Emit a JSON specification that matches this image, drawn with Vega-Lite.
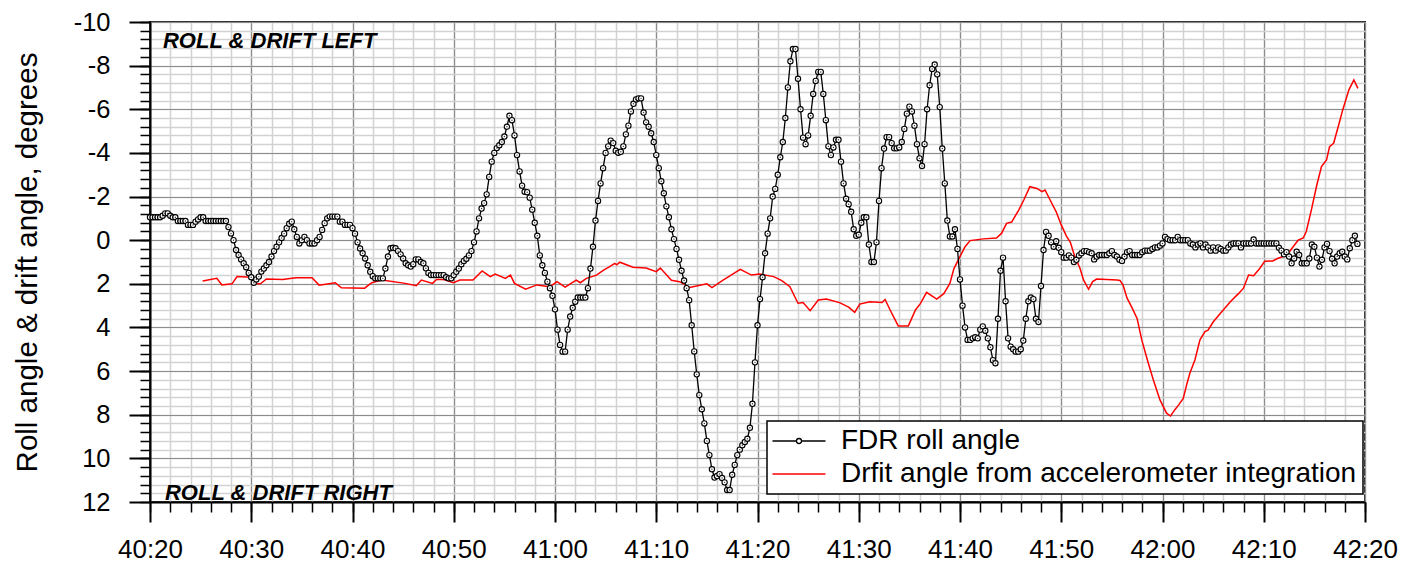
{
  "$schema": "https://vega.github.io/schema/vega-lite/v6.json",
  "width": 1215,
  "height": 480,
  "autosize": {"type": "none"},
  "padding": {"left": 150, "top": 22, "right": 40, "bottom": 62},
  "background": "white",
  "config": {
    "font": "Liberation Sans",
    "view": {"stroke": "black", "strokeWidth": 2},
    "axis": {"labelFont": "Liberation Sans", "titleFont": "Liberation Sans", "labelColor": "black", "titleColor": "black"}
  },
  "datasets": {
    "roll": [
      {"t":20,"v":-1.05},{"t":20.25,"v":-1.05},{"t":20.5,"v":-1.05},{"t":20.75,"v":-1.05},{"t":21,"v":-1.05},{"t":21.25,"v":-1.12},{"t":21.5,"v":-1.23},{"t":21.75,"v":-1.23},
      {"t":22,"v":-1.12},{"t":22.25,"v":-1.05},{"t":22.5,"v":-1.05},{"t":22.75,"v":-0.88},{"t":23,"v":-0.88},{"t":23.25,"v":-0.88},{"t":23.5,"v":-0.88},{"t":23.75,"v":-0.7},
      {"t":24,"v":-0.7},{"t":24.25,"v":-0.7},{"t":24.5,"v":-0.85},{"t":24.75,"v":-0.95},{"t":25,"v":-1.05},{"t":25.25,"v":-1.05},{"t":25.5,"v":-0.88},{"t":25.75,"v":-0.88},
      {"t":26,"v":-0.88},{"t":26.25,"v":-0.88},{"t":26.5,"v":-0.88},{"t":26.75,"v":-0.88},{"t":27,"v":-0.88},{"t":27.25,"v":-0.88},{"t":27.5,"v":-0.88},{"t":27.75,"v":-0.6},
      {"t":28,"v":-0.31},{"t":28.25,"v":0},{"t":28.5,"v":0.45},{"t":28.75,"v":0.68},{"t":29,"v":0.88},{"t":29.25,"v":1.06},{"t":29.5,"v":1.24},{"t":29.75,"v":1.5},
      {"t":30,"v":1.7},{"t":30.25,"v":1.95},{"t":30.5,"v":1.8},{"t":30.75,"v":1.67},{"t":31,"v":1.44},{"t":31.25,"v":1.3},{"t":31.5,"v":1.15},{"t":31.75,"v":1},
      {"t":32,"v":0.75},{"t":32.25,"v":0.5},{"t":32.5,"v":0.3},{"t":32.75,"v":0.1},{"t":33,"v":-0.1},{"t":33.25,"v":-0.3},{"t":33.5,"v":-0.55},{"t":33.75,"v":-0.75},
      {"t":34,"v":-0.85},{"t":34.25,"v":-0.5},{"t":34.5,"v":-0.15},{"t":34.75,"v":0.15},{"t":35,"v":0},{"t":35.25,"v":-0.15},{"t":35.5,"v":0},{"t":35.75,"v":0.15},
      {"t":36,"v":0.15},{"t":36.25,"v":0.15},{"t":36.5,"v":0},{"t":36.75,"v":-0.15},{"t":37,"v":-0.47},{"t":37.25,"v":-0.78},{"t":37.5,"v":-1},{"t":37.75,"v":-1.08},
      {"t":38,"v":-1.08},{"t":38.25,"v":-1.08},{"t":38.5,"v":-1.08},{"t":38.75,"v":-0.85},{"t":39,"v":-0.85},{"t":39.25,"v":-0.7},{"t":39.5,"v":-0.7},{"t":39.75,"v":-0.7},
      {"t":40,"v":-0.55},{"t":40.25,"v":-0.3},{"t":40.5,"v":0.1},{"t":40.75,"v":0.38},{"t":41,"v":0.6},{"t":41.25,"v":0.84},{"t":41.5,"v":1.15},{"t":41.75,"v":1.45},
      {"t":42,"v":1.65},{"t":42.25,"v":1.75},{"t":42.5,"v":1.75},{"t":42.75,"v":1.75},{"t":43,"v":1.75},{"t":43.25,"v":1.3},{"t":43.5,"v":0.75},{"t":43.75,"v":0.37},
      {"t":44,"v":0.35},{"t":44.25,"v":0.37},{"t":44.5,"v":0.5},{"t":44.75,"v":0.65},{"t":45,"v":0.84},{"t":45.25,"v":1.06},{"t":45.5,"v":1.15},{"t":45.75,"v":1.21},
      {"t":46,"v":1.1},{"t":46.25,"v":0.88},{"t":46.5,"v":0.88},{"t":46.75,"v":1},{"t":47,"v":1.06},{"t":47.25,"v":1.29},{"t":47.5,"v":1.5},{"t":47.75,"v":1.6},
      {"t":48,"v":1.6},{"t":48.25,"v":1.6},{"t":48.5,"v":1.6},{"t":48.75,"v":1.6},{"t":49,"v":1.6},{"t":49.25,"v":1.7},{"t":49.5,"v":1.75},{"t":49.75,"v":1.75},
      {"t":50,"v":1.6},{"t":50.25,"v":1.45},{"t":50.5,"v":1.3},{"t":50.75,"v":1.1},{"t":51,"v":0.95},{"t":51.25,"v":0.85},{"t":51.5,"v":0.7},{"t":51.75,"v":0.5},
      {"t":52,"v":0.1},{"t":52.25,"v":-0.4},{"t":52.5,"v":-1},{"t":52.75,"v":-1.45},{"t":53,"v":-1.7},{"t":53.25,"v":-2.1},{"t":53.5,"v":-2.9},{"t":53.75,"v":-3.6},
      {"t":54,"v":-4},{"t":54.25,"v":-4.22},{"t":54.5,"v":-4.35},{"t":54.75,"v":-4.5},{"t":55,"v":-4.75},{"t":55.25,"v":-5.2},{"t":55.5,"v":-5.7},{"t":55.75,"v":-5.5},
      {"t":56,"v":-4.8},{"t":56.25,"v":-3.9},{"t":56.5,"v":-3.15},{"t":56.75,"v":-2.5},{"t":57,"v":-2.22},{"t":57.25,"v":-2.2},{"t":57.5,"v":-1.95},{"t":57.75,"v":-1.4},
      {"t":58,"v":-0.8},{"t":58.25,"v":-0.2},{"t":58.5,"v":0.7},{"t":58.75,"v":1.15},{"t":59,"v":1.5},{"t":59.25,"v":1.9},{"t":59.5,"v":2.2},{"t":59.75,"v":2.55},
      {"t":60,"v":3.17},{"t":60.25,"v":4.1},{"t":60.5,"v":4.8},{"t":60.75,"v":5.11},{"t":61,"v":5.11},{"t":61.25,"v":4.1},{"t":61.5,"v":3.5},{"t":61.75,"v":3.1},
      {"t":62,"v":2.82},{"t":62.25,"v":2.63},{"t":62.5,"v":2.63},{"t":62.75,"v":2.63},{"t":63,"v":2.63},{"t":63.25,"v":2.2},{"t":63.5,"v":1.3},{"t":63.75,"v":0.3},
      {"t":64,"v":-0.9},{"t":64.25,"v":-1.8},{"t":64.5,"v":-2.6},{"t":64.75,"v":-3.3},{"t":65,"v":-4},{"t":65.25,"v":-4.3},{"t":65.5,"v":-4.56},{"t":65.75,"v":-4.45},
      {"t":66,"v":-4.1},{"t":66.25,"v":-4.01},{"t":66.5,"v":-4.05},{"t":66.75,"v":-4.3},{"t":67,"v":-4.85},{"t":67.25,"v":-5.25},{"t":67.5,"v":-5.9},{"t":67.75,"v":-6.25},
      {"t":68,"v":-6.45},{"t":68.25,"v":-6.5},{"t":68.5,"v":-6.5},{"t":68.75,"v":-5.85},{"t":69,"v":-5.4},{"t":69.25,"v":-5.2},{"t":69.5,"v":-4.9},{"t":69.75,"v":-4.5},
      {"t":70,"v":-3.9},{"t":70.25,"v":-3.3},{"t":70.5,"v":-2.7},{"t":70.75,"v":-2.15},{"t":71,"v":-1.55},{"t":71.25,"v":-1.05},{"t":71.5,"v":-0.5},{"t":71.75,"v":-0.05},
      {"t":72,"v":0.4},{"t":72.25,"v":0.9},{"t":72.5,"v":1.4},{"t":72.75,"v":1.85},{"t":73,"v":2.2},{"t":73.25,"v":2.75},{"t":73.5,"v":3.9},{"t":73.75,"v":5.1},
      {"t":74,"v":6.15},{"t":74.25,"v":7.1},{"t":74.5,"v":7.75},{"t":74.75,"v":8.4},{"t":75,"v":9.2},{"t":75.25,"v":9.85},{"t":75.5,"v":10.5},{"t":75.75,"v":10.88},
      {"t":76,"v":10.81},{"t":76.25,"v":10.72},{"t":76.5,"v":10.9},{"t":76.75,"v":11.1},{"t":77,"v":11.45},{"t":77.25,"v":11.45},{"t":77.5,"v":10.75},{"t":77.75,"v":10.3},
      {"t":78,"v":9.85},{"t":78.25,"v":9.6},{"t":78.5,"v":9.4},{"t":78.75,"v":9.25},{"t":79,"v":9.1},{"t":79.25,"v":8.6},{"t":79.5,"v":7.5},{"t":79.75,"v":5.6},
      {"t":80,"v":3.9},{"t":80.25,"v":2.7},{"t":80.5,"v":1.7},{"t":80.75,"v":0.6},{"t":81,"v":-0.3},{"t":81.25,"v":-1},{"t":81.5,"v":-2},{"t":81.75,"v":-2.35},
      {"t":82,"v":-3},{"t":82.25,"v":-3.8},{"t":82.5,"v":-4.5},{"t":82.75,"v":-5.6},{"t":83,"v":-7},{"t":83.25,"v":-8.2},{"t":83.5,"v":-8.76},{"t":83.75,"v":-8.76},
      {"t":84,"v":-7.4},{"t":84.25,"v":-6},{"t":84.5,"v":-4.7},{"t":84.75,"v":-4.4},{"t":85,"v":-4.8},{"t":85.25,"v":-5.7},{"t":85.5,"v":-6.7},{"t":85.75,"v":-7.3},
      {"t":86,"v":-7.71},{"t":86.25,"v":-7.71},{"t":86.5,"v":-6.7},{"t":86.75,"v":-5.5},{"t":87,"v":-4.3},{"t":87.25,"v":-3.9},{"t":87.5,"v":-4.25},{"t":87.75,"v":-4.6},
      {"t":88,"v":-4.6},{"t":88.25,"v":-3.6},{"t":88.5,"v":-2.6},{"t":88.75,"v":-1.9},{"t":89,"v":-1.65},{"t":89.25,"v":-1.3},{"t":89.5,"v":-0.5},{"t":89.75,"v":-0.2},
      {"t":90,"v":-0.25},{"t":90.25,"v":-0.8},{"t":90.5,"v":-1.05},{"t":90.75,"v":-1.05},{"t":91,"v":0.2},{"t":91.25,"v":1},{"t":91.5,"v":1},{"t":91.75,"v":0.1},
      {"t":92,"v":-1.8},{"t":92.25,"v":-3.3},{"t":92.5,"v":-4.2},{"t":92.75,"v":-4.72},{"t":93,"v":-4.72},{"t":93.25,"v":-4.45},{"t":93.5,"v":-4.21},{"t":93.75,"v":-4.21},
      {"t":94,"v":-4.25},{"t":94.25,"v":-4.5},{"t":94.5,"v":-5.1},{"t":94.75,"v":-5.8},{"t":95,"v":-6.12},{"t":95.25,"v":-5.9},{"t":95.5,"v":-5.25},{"t":95.75,"v":-4.4},
      {"t":96,"v":-3.75},{"t":96.25,"v":-3.4},{"t":96.5,"v":-4.4},{"t":96.75,"v":-6},{"t":97,"v":-7.1},{"t":97.25,"v":-7.85},{"t":97.5,"v":-8.05},{"t":97.75,"v":-7.6},
      {"t":98,"v":-6.1},{"t":98.25,"v":-4.2},{"t":98.5,"v":-2.6},{"t":98.75,"v":-0.9},{"t":99,"v":-0.17},{"t":99.25,"v":-0.17},{"t":99.5,"v":-0.5},{"t":99.75,"v":0.4},
      {"t":100,"v":1.8},{"t":100.25,"v":3},{"t":100.5,"v":4},{"t":100.75,"v":4.57},{"t":101,"v":4.57},{"t":101.25,"v":4.5},{"t":101.5,"v":4.45},{"t":101.75,"v":4.5},
      {"t":102,"v":4.1},{"t":102.25,"v":3.95},{"t":102.5,"v":4.15},{"t":102.75,"v":4.5},{"t":103,"v":4.91},{"t":103.25,"v":5.5},{"t":103.5,"v":5.64},{"t":103.75,"v":3.6},
      {"t":104,"v":1.4},{"t":104.25,"v":0.8},{"t":104.5,"v":2.8},{"t":104.75,"v":4.5},{"t":105,"v":4.88},{"t":105.25,"v":5},{"t":105.5,"v":5.11},{"t":105.75,"v":5.11},
      {"t":106,"v":5},{"t":106.25,"v":4.6},{"t":106.5,"v":3.6},{"t":106.75,"v":2.8},{"t":107,"v":2.63},{"t":107.25,"v":2.7},{"t":107.5,"v":3.6},{"t":107.75,"v":3.75},
      {"t":108,"v":2.1},{"t":108.25,"v":0.45},{"t":108.5,"v":-0.38},{"t":108.75,"v":-0.2},{"t":109,"v":0.1},{"t":109.25,"v":0.3},{"t":109.5,"v":0.05},{"t":109.75,"v":0.35},
      {"t":110,"v":0.55},{"t":110.25,"v":0.8},{"t":110.5,"v":0.8},{"t":110.75,"v":0.7},{"t":111,"v":0.8},{"t":111.25,"v":1},{"t":111.5,"v":0.9},{"t":111.75,"v":0.7},
      {"t":112,"v":0.6},{"t":112.25,"v":0.5},{"t":112.5,"v":0.5},{"t":112.75,"v":0.55},{"t":113,"v":0.6},{"t":113.25,"v":0.88},{"t":113.5,"v":0.75},{"t":113.75,"v":0.68},
      {"t":114,"v":0.68},{"t":114.25,"v":0.68},{"t":114.5,"v":0.68},{"t":114.75,"v":0.6},{"t":115,"v":0.5},{"t":115.25,"v":0.68},{"t":115.5,"v":0.75},{"t":115.75,"v":0.9},
      {"t":116,"v":0.95},{"t":116.25,"v":0.75},{"t":116.5,"v":0.55},{"t":116.75,"v":0.5},{"t":117,"v":0.68},{"t":117.25,"v":0.68},{"t":117.5,"v":0.68},{"t":117.75,"v":0.68},
      {"t":118,"v":0.55},{"t":118.25,"v":0.48},{"t":118.5,"v":0.48},{"t":118.75,"v":0.48},{"t":119,"v":0.4},{"t":119.25,"v":0.33},{"t":119.5,"v":0.33},{"t":119.75,"v":0.25},
      {"t":120,"v":0.15},{"t":120.25,"v":-0.15},{"t":120.5,"v":-0.05},{"t":120.75,"v":0},{"t":121,"v":0},{"t":121.25,"v":0},{"t":121.5,"v":-0.15},{"t":121.75,"v":0},
      {"t":122,"v":0},{"t":122.25,"v":0},{"t":122.5,"v":0},{"t":122.75,"v":0.15},{"t":123,"v":0.2},{"t":123.25,"v":0.33},{"t":123.5,"v":0.2},{"t":123.75,"v":0.15},
      {"t":124,"v":0.33},{"t":124.25,"v":0.2},{"t":124.5,"v":0.33},{"t":124.75,"v":0.48},{"t":125,"v":0.33},{"t":125.25,"v":0.48},{"t":125.5,"v":0.33},{"t":125.75,"v":0.4},
      {"t":126,"v":0.48},{"t":126.25,"v":0.48},{"t":126.5,"v":0.33},{"t":126.75,"v":0.2},{"t":127,"v":0.15},{"t":127.25,"v":0.15},{"t":127.5,"v":0.15},{"t":127.75,"v":0.33},
      {"t":128,"v":0.15},{"t":128.25,"v":0.15},{"t":128.5,"v":0.15},{"t":128.75,"v":0.15},{"t":129,"v":-0.03},{"t":129.25,"v":0.15},{"t":129.5,"v":0.15},{"t":129.75,"v":0.15},
      {"t":130,"v":0.15},{"t":130.25,"v":0.15},{"t":130.5,"v":0.15},{"t":130.75,"v":0.15},{"t":131,"v":0.15},{"t":131.25,"v":0.15},{"t":131.5,"v":0.35},{"t":131.75,"v":0.48},
      {"t":132,"v":0.65},{"t":132.25,"v":0.55},{"t":132.5,"v":0.75},{"t":132.75,"v":1.06},{"t":133,"v":0.84},{"t":133.25,"v":0.53},{"t":133.5,"v":0.68},{"t":133.75,"v":1.06},
      {"t":134,"v":1.06},{"t":134.25,"v":1.06},{"t":134.5,"v":0.84},{"t":134.75,"v":0.2},{"t":135,"v":0.3},{"t":135.25,"v":0.8},{"t":135.5,"v":1.21},{"t":135.75,"v":0.9},
      {"t":136,"v":0.33},{"t":136.25,"v":0.17},{"t":136.5,"v":0.5},{"t":136.75,"v":0.85},{"t":137,"v":1.06},{"t":137.25,"v":0.75},{"t":137.5,"v":0.6},{"t":137.75,"v":0.53},
      {"t":138,"v":0.75},{"t":138.25,"v":0.88},{"t":138.5,"v":0.37},{"t":138.75,"v":0},{"t":139,"v":-0.2},{"t":139.25,"v":0.17}
    ],
    "drift": [
      {"t":25.2,"v":1.87},{"t":26.6,"v":1.75},{"t":27.1,"v":2.05},{"t":28.1,"v":2},{"t":28.6,"v":1.67},{"t":30,"v":1.7},{"t":30.4,"v":2},{"t":30.9,"v":2},
      {"t":31.5,"v":1.78},{"t":33.1,"v":1.8},{"t":34.4,"v":1.72},{"t":36,"v":1.72},{"t":36.7,"v":2.06},{"t":38.3,"v":1.95},{"t":38.9,"v":2.18},{"t":41.2,"v":2.2},
      {"t":41.9,"v":1.95},{"t":42.9,"v":1.83},{"t":45.2,"v":1.98},{"t":46.3,"v":2.09},{"t":46.8,"v":1.83},{"t":47.9,"v":1.98},{"t":48.3,"v":1.8},{"t":49,"v":1.8},
      {"t":49.96,"v":1.95},{"t":50.6,"v":1.83},{"t":51.9,"v":1.83},{"t":52.8,"v":1.41},{"t":53.6,"v":1.67},{"t":54.1,"v":1.55},{"t":55.1,"v":1.75},{"t":55.6,"v":1.6},
      {"t":56,"v":1.98},{"t":57.1,"v":2.25},{"t":58.2,"v":2.05},{"t":59.5,"v":2.13},{"t":60.2,"v":1.9},{"t":61,"v":2.15},{"t":62.1,"v":1.83},{"t":62.5,"v":1.95},
      {"t":63.1,"v":1.75},{"t":64.1,"v":1.6},{"t":64.8,"v":1.37},{"t":65.4,"v":1.21},{"t":65.9,"v":1.06},{"t":66.1,"v":1.13},{"t":66.4,"v":1.01},{"t":67.7,"v":1.24},
      {"t":69,"v":1.28},{"t":70,"v":1.44},{"t":70.4,"v":1.28},{"t":71.5,"v":1.84},{"t":72.3,"v":1.9},{"t":73.3,"v":2.17},{"t":75,"v":2},{"t":75.5,"v":2.17},
      {"t":76.6,"v":1.83},{"t":78.3,"v":1.34},{"t":79.4,"v":1.6},{"t":80.2,"v":1.55},{"t":81.6,"v":1.67},{"t":82.4,"v":1.85},{"t":83.2,"v":2.13},{"t":84,"v":2.89},
      {"t":84.5,"v":2.86},{"t":85.2,"v":3.23},{"t":86,"v":2.74},{"t":86.8,"v":2.7},{"t":88.1,"v":2.86},{"t":89,"v":3.07},{"t":89.6,"v":3.31},{"t":90.1,"v":2.93},
      {"t":91.1,"v":2.82},{"t":92.3,"v":2.86},{"t":92.6,"v":2.72},{"t":93.1,"v":3.2},{"t":93.9,"v":3.93},{"t":94.9,"v":3.93},{"t":95.6,"v":3.2},{"t":96.1,"v":2.9},
      {"t":96.7,"v":2.39},{"t":97.7,"v":2.7},{"t":98.4,"v":2.45},{"t":99,"v":1.98},{"t":99.4,"v":1.3},{"t":100,"v":0.75},{"t":100.5,"v":0.3},{"t":101,"v":0.02},
      {"t":102.3,"v":-0.06},{"t":103.6,"v":-0.1},{"t":104.1,"v":-0.31},{"t":104.6,"v":-0.77},{"t":105.1,"v":-0.83},{"t":105.8,"v":-1.38},{"t":106.3,"v":-1.84},{"t":106.9,"v":-2.45},
      {"t":107.6,"v":-2.37},{"t":108.1,"v":-2.22},{"t":108.4,"v":-2.3},{"t":108.9,"v":-1.84},{"t":109.5,"v":-1.3},{"t":110,"v":-0.7},{"t":110.5,"v":-0.2},{"t":110.9,"v":0.1},
      {"t":111.3,"v":0.7},{"t":111.85,"v":1.29},{"t":112.2,"v":1.82},{"t":112.7,"v":2.25},{"t":113.1,"v":1.9},{"t":113.5,"v":1.78},{"t":114.5,"v":1.8},{"t":115.5,"v":1.83},
      {"t":115.8,"v":1.85},{"t":116.1,"v":2.05},{"t":116.5,"v":2.66},{"t":117,"v":3.1},{"t":117.5,"v":3.6},{"t":117.95,"v":4.57},{"t":118.6,"v":5.64},{"t":119.1,"v":6.41},
      {"t":119.75,"v":7.32},{"t":120.4,"v":7.93},{"t":120.8,"v":8.06},{"t":121.2,"v":7.78},{"t":121.6,"v":7.55},{"t":122.05,"v":7.25},{"t":122.4,"v":6.6},{"t":122.7,"v":6.1},
      {"t":123.2,"v":5.49},{"t":123.7,"v":4.57},{"t":124.2,"v":4.19},{"t":124.5,"v":4.12},{"t":125,"v":3.75},{"t":125.7,"v":3.36},{"t":126.7,"v":2.82},{"t":127.5,"v":2.45},
      {"t":128,"v":2.2},{"t":128.5,"v":1.6},{"t":129,"v":1.63},{"t":129.6,"v":1.3},{"t":130.1,"v":0.96},{"t":130.9,"v":0.95},{"t":131.3,"v":0.85},{"t":132.3,"v":0.68},
      {"t":132.9,"v":0.3},{"t":133.4,"v":0},{"t":133.9,"v":-0.1},{"t":134.2,"v":-0.4},{"t":134.7,"v":-1.38},{"t":135.2,"v":-2.45},{"t":135.7,"v":-3.37},{"t":136.2,"v":-3.68},
      {"t":136.5,"v":-4.29},{"t":136.9,"v":-4.44},{"t":137.4,"v":-5.28},{"t":137.8,"v":-5.97},{"t":138.4,"v":-6.88},{"t":138.9,"v":-7.34},{"t":139.3,"v":-6.96}
    ]
  },
  "layer": [
    {
      "data": {"name": "drift"},
      "mark": {"type": "line", "strokeWidth": 1.5, "interpolate": "linear"},
      "encoding": {
        "x": {
          "field": "t", "type": "quantitative",
          "scale": {"domain": [20, 140], "nice": false, "zero": false},
          "axis": {
            "orient": "bottom", "title": null, "labels": false, "domain": false,
            "values": [20,22,24,26,28,30,32,34,36,38,40,42,44,46,48,50,52,54,56,58,60,62,64,66,68,70,72,74,76,78,80,82,84,86,88,90,92,94,96,98,100,102,104,106,108,110,112,114,116,118,120,122,124,126,128,130,132,134,136,138,140],
            "grid": true, "gridColor": "#d2d2d2", "gridWidth": 1.5,
            "ticks": true, "tickSize": 10, "tickColor": "black", "tickWidth": 1.5
          }
        },
        "y": {
          "field": "v", "type": "quantitative",
          "scale": {"domain": [-10, 12], "reverse": true, "nice": false, "zero": false},
          "axis": {
            "orient": "left", "title": null, "labels": false, "domain": false,
            "values": [-10,-9.6,-9.2,-8.8,-8.4,-8,-7.6,-7.2,-6.8,-6.4,-6,-5.6,-5.2,-4.8,-4.4,-4,-3.6,-3.2,-2.8,-2.4,-2,-1.6,-1.2,-0.8,-0.4,0,0.4,0.8,1.2,1.6,2,2.4,2.8,3.2,3.6,4,4.4,4.8,5.2,5.6,6,6.4,6.8,7.2,7.6,8,8.4,8.8,9.2,9.6,10,10.4,10.8,11.2,11.6,12],
            "grid": true, "gridColor": "#d2d2d2", "gridWidth": 1.5,
            "ticks": true, "tickSize": 10, "tickColor": "black", "tickWidth": 1.5
          }
        },
        "color": {
          "datum": "Drfit angle from accelerometer integration",
          "scale": {"domain": ["FDR roll angle", "Drfit angle from accelerometer integration"], "range": ["black", "#ff0000"]},
          "legend": {
            "title": null, "orient": "none", "legendX": 617, "legendY": 399, "direction": "vertical",
            "fillColor": "white", "strokeColor": "black", "padding": 6,
            "labelFont": "Liberation Sans", "labelFontSize": 28, "labelColor": "black", "labelLimit": 0,
            "symbolSize": 100, "symbolOffset": 12, "labelOffset": 28, "rowPadding": 5, "symbolStrokeWidth": 1.3,
            "encode": {
              "legend": {"update": {"strokeWidth": {"value": 1.5}}},
              "symbols": {
                "update": {
                  "shape": {"signal": "datum.value === 'FDR roll angle' ? 'M-5.3,0L-0.5,0M0.5,0L5.3,0M0.5,0A0.5,0.5,0,1,1,-0.5,0A0.5,0.5,0,1,1,0.5,0' : 'M-5.3,0L5.3,0'"},
                  "fill": {"value": "transparent"}
                }
              }
            }
          }
        }
      }
    },
    {
      "data": {"name": "roll"},
      "mark": {"type": "line", "strokeWidth": 1.3},
      "encoding": {
        "x": {
          "field": "t", "type": "quantitative",
          "scale": {"domain": [20, 140], "nice": false, "zero": false},
          "axis": {
            "orient": "bottom", "title": null,
            "values": [20,30,40,50,60,70,80,90,100,110,120,130,140],
            "labelExpr": "(40 + floor(datum.value / 60)) + ':' + (datum.value % 60 < 10 ? '0' : '') + (datum.value % 60)",
            "labelFontSize": 26, "labelPadding": 14, "labelFlush": false, "labelOverlap": false,
            "grid": true, "gridColor": "#8c8c8c", "gridWidth": 1.2,
            "tickSize": 20, "tickColor": "black", "tickWidth": 2,
            "domain": true, "domainColor": "black", "domainWidth": 2
          }
        },
        "y": {
          "field": "v", "type": "quantitative",
          "scale": {"domain": [-10, 12], "reverse": true, "nice": false, "zero": false},
          "axis": {
            "orient": "left", "title": "Roll angle & drift angle, degrees",
            "titleFontSize": 29.5, "titleFontWeight": "normal", "titlePadding": 31,
            "values": [-10,-8,-6,-4,-2,0,2,4,6,8,10,12],
            "labelExpr": "datum.value < 0 ? '-' + abs(datum.value) : '' + datum.value",
            "labelFontSize": 25.5, "labelPadding": 19, "labelFlush": false, "labelOverlap": false,
            "grid": true, "gridColor": "#8c8c8c", "gridWidth": 1.2,
            "tickSize": 21, "tickColor": "black", "tickWidth": 2,
            "domain": true, "domainColor": "black", "domainWidth": 2
          }
        },
        "color": {"datum": "FDR roll angle"}
      }
    },
    {
      "data": {"name": "roll"},
      "mark": {"type": "point", "shape": "circle", "size": 28, "filled": false, "fill": "white", "fillOpacity": 1, "stroke": "black", "strokeWidth": 1.1, "opacity": 1},
      "encoding": {
        "x": {"field": "t", "type": "quantitative", "scale": {"domain": [20, 140], "nice": false, "zero": false}, "axis": null},
        "y": {"field": "v", "type": "quantitative", "scale": {"domain": [-10, 12], "reverse": true, "nice": false, "zero": false}, "axis": null}
      }
    },
    {
      "data": {"name": "roll"},
      "mark": {"type": "point", "shape": "circle", "size": 2, "filled": true, "color": "black", "opacity": 0.8},
      "encoding": {
        "x": {"field": "t", "type": "quantitative", "scale": {"domain": [20, 140], "nice": false, "zero": false}, "axis": null},
        "y": {"field": "v", "type": "quantitative", "scale": {"domain": [-10, 12], "reverse": true, "nice": false, "zero": false}, "axis": null}
      }
    },
    {
      "data": {"values": [{}]},
      "mark": {"type": "text", "text": "ROLL & DRIFT LEFT", "font": "Liberation Sans", "fontSize": 22, "fontWeight": "bold", "fontStyle": "italic", "align": "left", "baseline": "alphabetic", "color": "black"},
      "encoding": {
        "x": {"datum": 21.28, "type": "quantitative", "scale": {"domain": [20, 140], "nice": false, "zero": false}, "axis": null},
        "y": {"datum": -8.81, "type": "quantitative", "scale": {"domain": [-10, 12], "reverse": true, "nice": false, "zero": false}, "axis": null}
      }
    },
    {
      "data": {"values": [{}]},
      "mark": {"type": "text", "text": "ROLL & DRIFT RIGHT", "font": "Liberation Sans", "fontSize": 22, "fontWeight": "bold", "fontStyle": "italic", "align": "left", "baseline": "alphabetic", "color": "black"},
      "encoding": {
        "x": {"datum": 21.48, "type": "quantitative", "scale": {"domain": [20, 140], "nice": false, "zero": false}, "axis": null},
        "y": {"datum": 11.9, "type": "quantitative", "scale": {"domain": [-10, 12], "reverse": true, "nice": false, "zero": false}, "axis": null}
      }
    }
  ],
  "resolve": {"axis": {"x": "independent", "y": "independent"}}
}
